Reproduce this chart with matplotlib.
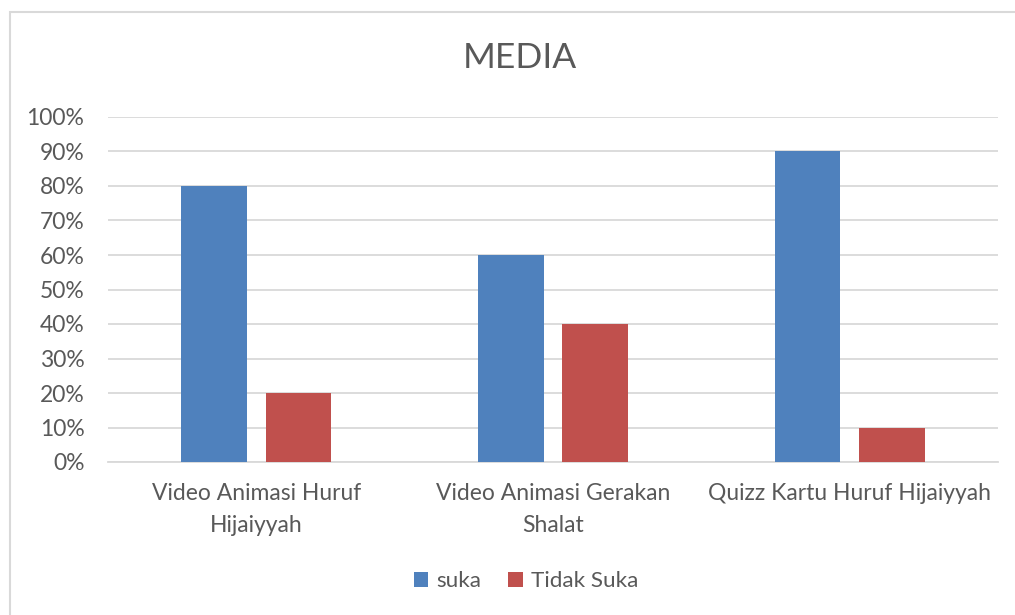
import matplotlib.pyplot as plt
from matplotlib.patches import Rectangle
import numpy as np

plt.rcParams['font.family'] = ['Lato', 'DejaVu Sans']

kategori = ['Video Animasi Huruf\nHijaiyyah', 'Video Animasi Gerakan\nShalat', 'Quizz Kartu Huruf Hijaiyyah']
suka = [0.80, 0.60, 0.90]
tidak_suka = [0.20, 0.40, 0.10]
yticks = [0, 0.1, 0.2, 0.3, 0.4, 0.5, 0.6, 0.7, 0.8, 0.9, 1.0]

abu = '#595959'
fig = plt.figure(figsize=(10.15, 6.15), dpi=100)
ax = fig.add_axes([108/1015, 153/615, 890/1015, 345/615])

x = np.arange(len(kategori))
lebar = 0.222
ax.bar(x - 0.142, suka, lebar, color='#4F81BD', label='suka', zorder=3)
ax.bar(x + 0.142, tidak_suka, lebar, color='#C0504D', label='Tidak Suka', zorder=3)

ax.set_xlim(-0.5, 2.5)
ax.set_ylim(0, 1.0)
ax.set_yticks(yticks)
ax.set_yticklabels([f'{int(round(v*100))}%' for v in yticks])
ax.set_xticks(x)
ax.set_xticklabels(kategori, linespacing=1.65)
ax.tick_params(axis='y', length=0, pad=17, labelsize=16.5, labelcolor=abu)
ax.tick_params(axis='x', length=0, pad=15, labelsize=16.5, labelcolor=abu)
ax.grid(axis='y', color='#D9D9D9', linewidth=1.3, zorder=0)
for s in ['top', 'right', 'left']:
    ax.spines[s].set_visible(False)
ax.spines['bottom'].set_color('#D9D9D9')
ax.spines['bottom'].set_linewidth(1.3)

fig.text(520/1015, 1 - 58/615, 'MEDIA', ha='center', va='center', fontsize=25.5, color=abu)
fig.legend(loc='center', bbox_to_anchor=(526/1015, 1 - 581/615), ncol=2, frameon=False,
           fontsize=16.2, labelcolor=abu, handlelength=0.65, handleheight=0.65,
           columnspacing=1.2, handletextpad=0.35)

fig.patches.append(Rectangle((10/1015, -0.1), 1.1, 1 - 12/615 + 0.1, transform=fig.transFigure,
                             fill=False, edgecolor='#D9D9D9', linewidth=1.5))

fig.savefig('out.png', dpi=100)
